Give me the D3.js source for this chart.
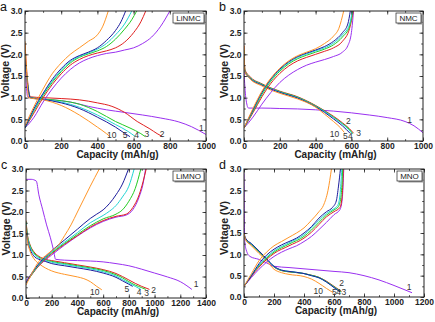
<!DOCTYPE html>
<html>
<head>
<meta charset="utf-8">
<script src="https://cdn.jsdelivr.net/npm/d3@7"></script>
<style>
  body { margin: 0; background: #fff; }
  svg text { font-family: Arial, "Liberation Sans", sans-serif; }
</style>
</head>
<body>
<div id="chart"></div>
<script>
// cycle order used by every series array below: 1, 2, 3, 4, 5, 10
const cycles = ["1", "2", "3", "4", "5", "10"];

// ---- panel a : LiNMC ----
const aCharge = [
  [[0,0.3],[50,0.55],[100,0.9],[150,1.2],[200,1.45],[250,1.65],[300,1.8],[350,1.9],[400,1.97],[450,2.02],[500,2.05],[550,2.1],[600,2.15],[650,2.25],[700,2.4],[750,2.65],[800,3.0]],
  [[0,0.3],[50,0.65],[100,1.0],[150,1.3],[200,1.55],[250,1.75],[300,1.88],[350,1.97],[400,2.03],[450,2.08],[500,2.15],[550,2.28],[600,2.5],[640,2.75],[667,3.0]],
  [[0,0.3],[50,0.7],[100,1.05],[150,1.35],[200,1.6],[250,1.8],[300,1.93],[350,2.01],[400,2.08],[450,2.18],[500,2.35],[550,2.58],[590,2.8],[617,3.0]],
  [[0,0.3],[50,0.72],[100,1.08],[150,1.38],[200,1.63],[250,1.83],[300,1.95],[350,2.03],[400,2.12],[450,2.25],[500,2.45],[550,2.7],[590,3.0]],
  [[0,0.3],[50,0.75],[100,1.1],[150,1.42],[200,1.67],[250,1.86],[300,1.97],[350,2.05],[400,2.15],[450,2.32],[500,2.55],[530,2.75],[556,3.0]],
  [[0,0.35],[50,0.8],[100,1.2],[150,1.55],[200,1.8],[250,2.0],[300,2.15],[350,2.3],[400,2.45],[430,2.65],[460,3.0]]
];
const aDischarge = [
  [[0,2.1],[5,1.5],[15,1.02],[50,0.98],[150,0.95],[250,0.9],[350,0.8],[450,0.72],[550,0.66],[650,0.6],[750,0.53],[850,0.44],[920,0.33],[1000,0.15]],
  [[0,2.25],[10,1.6],[30,1.02],[100,1.0],[200,0.98],[300,0.95],[400,0.88],[480,0.8],[550,0.66],[620,0.45],[690,0.28],[730,0.17],[760,0.1]],
  [[0,2.0],[10,1.5],[30,1.0],[100,0.97],[200,0.93],[300,0.85],[400,0.68],[500,0.45],[580,0.3],[640,0.17],[665,0.1]],
  [[0,1.9],[10,1.45],[30,1.0],[100,0.96],[200,0.9],[300,0.78],[400,0.6],[500,0.38],[570,0.22],[610,0.1]],
  [[0,1.9],[10,1.45],[30,1.0],[100,0.96],[200,0.88],[300,0.75],[400,0.55],[500,0.32],[550,0.18],[580,0.1]],
  [[0,2.3],[10,1.5],[20,1.0],[100,0.95],[200,0.82],[300,0.6],[400,0.32],[450,0.17],[470,0.1]]
];
const aLabels = [[974,0.3],[758,0.15],[673,0.15],[617,0.14],[553,0.13],[479,0.14]];

// ---- panel b : NMC ----
const bCharge = [
  [[0,0.3],[50,0.55],[100,0.85],[150,1.12],[200,1.35],[250,1.52],[300,1.65],[350,1.75],[400,1.82],[450,1.88],[500,1.95],[550,2.05],[580,2.2],[600,2.5],[612,3.0]],
  [[0,0.3],[50,0.65],[100,1.02],[150,1.33],[200,1.56],[250,1.73],[300,1.85],[350,1.93],[400,2.0],[450,2.07],[500,2.15],[550,2.3],[590,2.6],[611,3.0]],
  [[0,0.3],[50,0.68],[100,1.07],[150,1.38],[200,1.61],[250,1.78],[300,1.9],[350,1.98],[400,2.05],[450,2.12],[500,2.22],[550,2.4],[590,2.65],[607,3.0]],
  [[0,0.3],[50,0.7],[100,1.1],[150,1.41],[200,1.64],[250,1.81],[300,1.93],[350,2.01],[400,2.08],[450,2.15],[500,2.26],[550,2.45],[590,2.7],[605,3.0]],
  [[0,0.3],[50,0.72],[100,1.12],[150,1.43],[200,1.66],[250,1.83],[300,1.95],[350,2.03],[400,2.1],[450,2.18],[500,2.3],[550,2.5],[580,2.7],[594,3.0]],
  [[0,0.3],[50,0.75],[100,1.15],[150,1.45],[200,1.68],[250,1.85],[300,1.97],[350,2.05],[400,2.13],[450,2.25],[500,2.42],[530,2.6],[557,3.0]]
];
const bDischarge = [
  [[0,1.6],[10,1.0],[25,0.76],[100,0.76],[200,0.75],[300,0.74],[400,0.72],[500,0.69],[600,0.65],[700,0.6],[800,0.54],[900,0.45],[950,0.35],[1000,0.19]],
  [[0,2.2],[5,1.65],[30,1.5],[100,1.32],[200,1.15],[300,1.02],[400,0.82],[450,0.7],[500,0.57],[550,0.42],[590,0.28],[612,0.18]],
  [[0,2.1],[5,1.62],[30,1.48],[100,1.31],[200,1.14],[300,1.01],[400,0.81],[450,0.69],[500,0.55],[550,0.4],[590,0.26],[607,0.17]],
  [[0,2.0],[5,1.6],[30,1.47],[100,1.3],[200,1.13],[300,1.0],[400,0.8],[450,0.68],[500,0.54],[550,0.39],[585,0.26],[602,0.18]],
  [[0,2.0],[5,1.6],[30,1.46],[100,1.29],[200,1.12],[300,0.99],[400,0.79],[450,0.66],[500,0.51],[550,0.35],[592,0.18]],
  [[0,2.2],[5,1.6],[30,1.45],[100,1.27],[200,1.1],[300,0.97],[400,0.78],[450,0.62],[500,0.45],[540,0.3],[560,0.2]]
];
const bLabels = [[925,0.49],[583,0.45],[641,0.18],[594,0.11],[566,0.12],[505,0.15]];

// ---- panel c : LiMNO ----
const cCharge = [
  [[0,0.4],[100,0.75],[200,1.0],[300,1.23],[400,1.44],[500,1.63],[600,1.78],[700,1.88],[780,1.93],[830,2.05],[880,2.35],[910,2.65],[930,3.0]],
  [[0,0.35],[100,0.75],[200,1.03],[300,1.25],[400,1.45],[500,1.65],[600,1.8],[700,1.9],[780,1.95],[830,2.1],[880,2.4],[910,2.7],[935,3.0]],
  [[0,0.35],[100,0.77],[200,1.05],[300,1.27],[400,1.48],[500,1.68],[600,1.84],[700,1.95],[750,2.05],[800,2.25],[850,2.55],[893,3.0]],
  [[0,0.35],[100,0.78],[200,1.07],[300,1.3],[400,1.52],[500,1.75],[600,1.92],[650,2.02],[700,2.15],[750,2.35],[800,2.6],[841,3.0]],
  [[0,0.35],[50,0.6],[100,0.8],[150,0.95],[200,1.1],[300,1.35],[400,1.6],[500,1.85],[550,1.95],[600,2.05],[650,2.2],[700,2.4],[750,2.65],[797,3.0]],
  [[0,0.3],[50,0.6],[100,0.85],[150,0.98],[200,1.1],[250,1.22],[300,1.45],[350,1.7],[400,2.0],[450,2.3],[500,2.6],[570,3.0]]
];
const cDischarge = [
  [[0,2.76],[40,2.76],[80,2.72],[100,2.4],[130,2.05],[160,1.7],[190,1.4],[215,1.1],[230,0.9],[300,0.88],[400,0.87],[500,0.86],[600,0.84],[700,0.8],[800,0.75],[900,0.67],[1000,0.58],[1100,0.49],[1200,0.38],[1290,0.2]],
  [[0,1.8],[10,1.5],[30,1.25],[60,1.08],[100,0.97],[150,0.9],[200,0.87],[300,0.82],[400,0.77],[500,0.72],[600,0.66],[700,0.57],[750,0.5],[800,0.42],[850,0.34],[900,0.27],[960,0.2]],
  [[0,1.78],[10,1.48],[30,1.23],[60,1.06],[100,0.95],[150,0.89],[200,0.85],[300,0.8],[400,0.75],[500,0.7],[600,0.64],[700,0.54],[750,0.47],[800,0.38],[850,0.3],[900,0.24],[932,0.2]],
  [[0,1.75],[10,1.45],[30,1.2],[60,1.03],[100,0.93],[150,0.87],[200,0.83],[300,0.78],[400,0.73],[500,0.68],[600,0.61],[700,0.51],[750,0.43],[800,0.35],[850,0.27],[893,0.2]],
  [[0,1.7],[10,1.4],[30,1.15],[60,0.98],[100,0.9],[150,0.85],[200,0.8],[300,0.75],[400,0.7],[500,0.65],[600,0.58],[700,0.48],[750,0.4],[800,0.32],[830,0.27]],
  [[0,1.7],[10,1.35],[30,1.1],[60,0.92],[100,0.8],[150,0.7],[200,0.63],[300,0.55],[400,0.49],[450,0.45],[500,0.38],[550,0.27],[590,0.19]]
];
const cLabels = [[1324,0.32],[993,0.18],[938,0.12],[880,0.14],[784,0.2],[535,0.14]];

// ---- panel d : MNO ----
const dCharge = [
  [[0,0.25],[100,0.65],[200,0.95],[250,1.05],[300,1.13],[350,1.2],[400,1.3],[450,1.42],[500,1.58],[550,1.75],[600,1.93],[640,2.05],[655,2.3],[665,3.0]],
  [[0,0.25],[100,0.7],[200,1.02],[300,1.2],[400,1.38],[450,1.52],[500,1.7],[550,1.88],[600,2.0],[640,2.1],[655,2.4],[662,3.0]],
  [[0,0.25],[100,0.73],[200,1.05],[300,1.24],[400,1.42],[450,1.57],[500,1.75],[550,1.92],[600,2.04],[630,2.12],[648,2.4],[658,3.0]],
  [[0,0.25],[100,0.75],[200,1.08],[300,1.27],[400,1.46],[450,1.62],[500,1.8],[550,1.96],[600,2.07],[625,2.15],[640,2.4],[652,3.0]],
  [[0,0.25],[50,0.5],[100,0.78],[150,0.98],[200,1.12],[250,1.22],[300,1.3],[350,1.38],[400,1.5],[450,1.65],[500,1.85],[550,2.0],[590,2.1],[615,2.25],[630,2.6],[643,3.0]],
  [[0,0.25],[50,0.55],[100,0.85],[150,1.05],[200,1.2],[250,1.3],[300,1.4],[350,1.5],[400,1.62],[450,1.8],[500,2.0],[530,2.15],[560,2.5],[583,3.0]]
];
const dDischarge = [
  [[0,2.9],[5,1.3],[15,1.1],[40,0.95],[100,0.88],[150,0.8],[200,0.72],[300,0.69],[400,0.66],[500,0.63],[600,0.6],[700,0.57],[800,0.5],[900,0.4],[1000,0.27],[1120,0.1]],
  [[0,1.45],[10,1.35],[50,1.22],[100,1.05],[150,0.88],[200,0.7],[250,0.62],[300,0.59],[400,0.55],[450,0.51],[500,0.46],[550,0.37],[600,0.25],[650,0.13]],
  [[0,1.45],[10,1.36],[50,1.23],[100,1.06],[150,0.89],[200,0.71],[250,0.62],[300,0.59],[400,0.55],[450,0.51],[500,0.46],[550,0.36],[600,0.24],[648,0.12]],
  [[0,1.48],[10,1.37],[50,1.24],[100,1.07],[150,0.89],[200,0.71],[250,0.63],[300,0.6],[400,0.55],[450,0.5],[500,0.45],[550,0.35],[600,0.23],[643,0.12]],
  [[0,1.5],[10,1.38],[50,1.25],[100,1.08],[150,0.9],[200,0.72],[250,0.63],[300,0.6],[400,0.55],[450,0.5],[500,0.45],[550,0.35],[600,0.22],[640,0.12]],
  [[0,1.5],[10,1.35],[50,1.2],[100,1.02],[150,0.85],[200,0.65],[250,0.57],[300,0.53],[400,0.48],[450,0.42],[500,0.32],[550,0.2],[595,0.1]]
];
const dLabels = [[1101,0.23],[650,0.32],[665,0.11],[630,0.11],[602,0.12],[495,0.14]];

const yTicks = [0, 0.5, 1.0, 1.5, 2.0, 2.5, 3.0];
const xTicks1000 = [0, 200, 400, 600, 800, 1000];
const xTicks1400 = [0, 200, 400, 600, 800, 1000, 1200, 1400];
const xTicks1200 = [0, 200, 400, 600, 800, 1000, 1200];

const colors = ["#9a30f0", "#e02020", "#22cc22", "#22d4d4", "#1c1c9c", "#ff9628"];

const panels = [
  { letter: "a", name: "LiNMC", xMax: 1000, xTicks: xTicks1000, charge: aCharge, discharge: aDischarge, labels: aLabels, box: [25, 206, 11, 141] },
  { letter: "b", name: "NMC",   xMax: 1000, xTicks: xTicks1000, charge: bCharge, discharge: bDischarge, labels: bLabels, box: [244, 423, 11, 141] },
  { letter: "c", name: "LiMNO", xMax: 1400, xTicks: xTicks1400, charge: cCharge, discharge: cDischarge, labels: cLabels, box: [26, 206, 169, 298] },
  { letter: "d", name: "MNO",   xMax: 1200, xTicks: xTicks1200, charge: dCharge, discharge: dDischarge, labels: dLabels, box: [244, 424, 169, 297] }
];

const svg = d3.select("#chart").append("svg")
  .attr("width", 435).attr("height", 322);

panels.forEach(p => {
  const [x0, x1, y0, y1] = p.box;
  const x = d3.scaleLinear().domain([0, p.xMax]).range([x0, x1]);
  const y = d3.scaleLinear().domain([0, 3]).range([y1, y0]);
  const g = svg.append("g");

  const clipId = "clip-" + p.letter;
  g.append("clipPath").attr("id", clipId)
    .append("rect").attr("x", x0).attr("y", y0).attr("width", x1 - x0).attr("height", y1 - y0);

  const line = d3.line().x(d => x(d[0])).y(d => y(d[1])).curve(d3.curveMonotoneX);
  const lines = g.append("g").attr("clip-path", `url(#${clipId})`);
  [p.discharge, p.charge].forEach(set => {
    set.forEach((pts, i) => {
      lines.append("path").datum(pts)
        .attr("d", line)
        .attr("fill", "none")
        .attr("stroke", colors[i])
        .attr("stroke-width", 1);
    });
  });

  // minor ticks
  const minorX = d3.range(0, p.xMax + 1, 100);
  const minorY = d3.range(0, 3.01, 0.25);
  const axes = [
    [d3.axisBottom(x), y1, "x"], [d3.axisTop(x), y0, "x"],
    [d3.axisLeft(y), x0, "y"], [d3.axisRight(y), x1, "y"]
  ];
  axes.forEach(([ax, pos, dim]) => {
    const tr = dim === "x" ? `translate(0,${pos})` : `translate(${pos},0)`;
    g.append("g").attr("transform", tr)
      .call(ax.tickValues(dim === "x" ? minorX : minorY).tickSize(-1.8).tickFormat(""))
      .call(s => s.select(".domain").remove());
  });

  // major ticks + labels
  g.append("g").attr("transform", `translate(0,${y1})`)
    .call(d3.axisBottom(x).tickValues(p.xTicks).tickSize(-3.5).tickPadding(1.5).tickFormat(d3.format("d")))
    .call(s => s.select(".domain").remove());
  g.append("g").attr("transform", `translate(0,${y0})`)
    .call(d3.axisTop(x).tickValues(p.xTicks).tickSize(-3.5).tickFormat(""))
    .call(s => s.select(".domain").remove());
  g.append("g").attr("transform", `translate(${x0},0)`)
    .call(d3.axisLeft(y).tickValues(yTicks).tickSize(-3.5).tickPadding(2.5).tickFormat(d3.format(".1f")))
    .call(s => s.select(".domain").remove());
  g.append("g").attr("transform", `translate(${x1},0)`)
    .call(d3.axisRight(y).tickValues(yTicks).tickSize(-3.5).tickFormat(""))
    .call(s => s.select(".domain").remove());

  g.selectAll(".tick text")
    .attr("font-size", 8.5).attr("font-weight", "bold").attr("fill", "#222")
    .attr("font-family", "Arial, 'Liberation Sans', sans-serif");
  g.selectAll(".tick line").attr("stroke", "#222").attr("stroke-width", 0.8);

  g.append("rect")
    .attr("x", x0).attr("y", y0).attr("width", x1 - x0).attr("height", y1 - y0)
    .attr("fill", "none").attr("stroke", "#222").attr("stroke-width", 1);

  // cycle numbers
  p.labels.forEach((lb, i) => {
    g.append("text")
      .attr("x", x(lb[0])).attr("y", y(lb[1]))
      .attr("text-anchor", "middle").attr("dy", "0.35em")
      .attr("font-size", 8.5).attr("fill", "#333")
      .text(cycles[i]);
  });

  // sample name box
  const bw = p.name.length > 3 ? 31 : 25;
  const bx = x1 - 2 - bw, by = y0 + 2;
  g.append("rect").attr("x", bx + 1.5).attr("y", by + 1.5).attr("width", bw).attr("height", 10).attr("fill", "#999");
  g.append("rect").attr("x", bx).attr("y", by).attr("width", bw).attr("height", 10)
    .attr("fill", "#fff").attr("stroke", "#222").attr("stroke-width", 0.7);
  g.append("text").attr("x", bx + bw / 2).attr("y", by + 8)
    .attr("text-anchor", "middle").attr("font-size", 8).attr("fill", "#222")
    .text(p.name);

  // axis titles
  g.append("text").attr("x", (x0 + x1) / 2 + 2).attr("y", y1 + 17)
    .attr("text-anchor", "middle").attr("font-size", 10).attr("font-weight", "bold").attr("fill", "#222")
    .text("Capacity (mAh/g)");
  g.append("text")
    .attr("transform", `translate(${x0 - 16},${(y0 + y1) / 2 - 5}) rotate(-90)`)
    .attr("text-anchor", "middle").attr("font-size", 10.5).attr("font-weight", "bold").attr("fill", "#222")
    .text("Voltage (V)");

  // panel letter
  g.append("text").attr("x", x0 - 25).attr("y", y0)
    .attr("font-size", 12.5).attr("fill", "#111")
    .text(p.letter);
});
</script>
</body>
</html>
